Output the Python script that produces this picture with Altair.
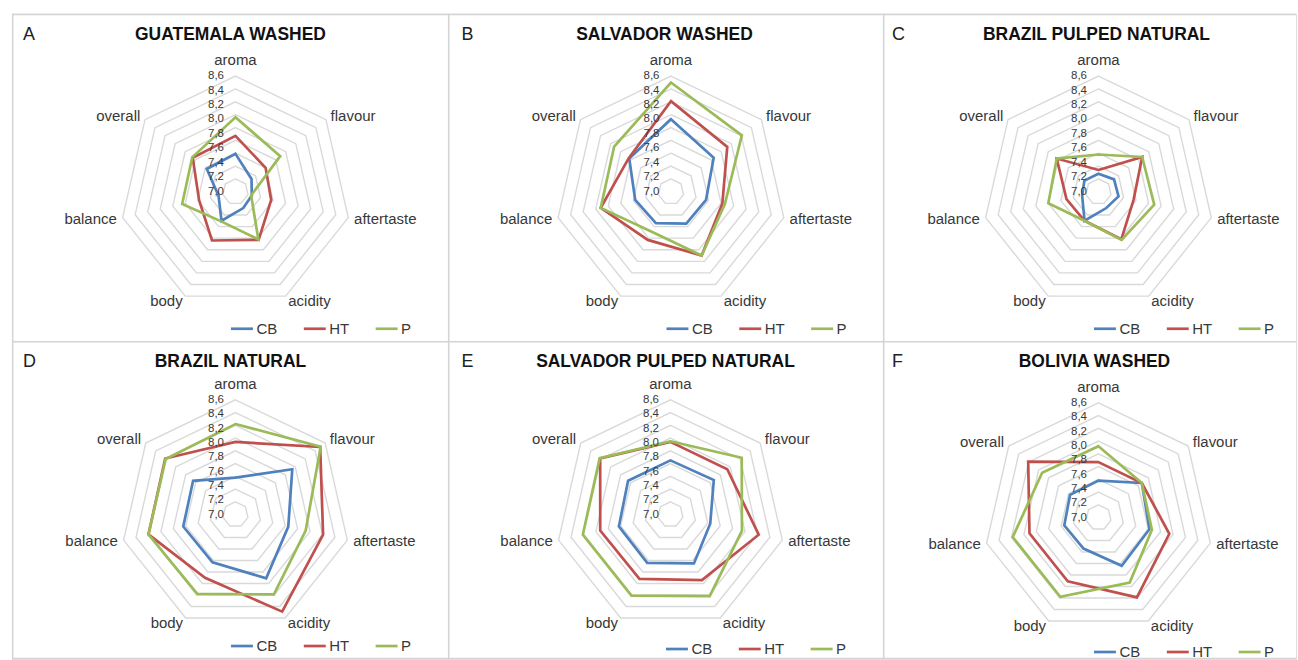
import altair as alt
import pandas as pd

# Cupping attributes, clockwise from the top of each radar
attributes = ["aroma", "flavour", "aftertaste", "acidity", "body", "balance", "overall"]
label_side = ["top", "right", "right", "right", "left", "left", "left"]

series_names = ["CB", "HT", "P"]
series_colors = ["#4F81BD", "#C0504D", "#9BBB59"]

tick_values = [7.0, 7.2, 7.4, 7.6, 7.8, 8.0, 8.2, 8.4, 8.6]
tick_labels = ["7,0", "7,2", "7,4", "7,6", "7,8", "8,0", "8,2", "8,4", "8,6"]
scale_min, scale_max = 6.8, 8.6

panel_letters = ["A", "B", "C", "D", "E", "F"]
panel_titles = ["GUATEMALA WASHED", "SALVADOR  WASHED", "BRAZIL  PULPED  NATURAL",
                "BRAZIL  NATURAL", "SALVADOR  PULPED NATURAL", "BOLIVIA WASHED"]

# Mean scores per attribute (aroma ... overall)
guatemala_cb = [7.39, 7.12, 7.06, 7.08, 7.30, 7.07, 7.37]
guatemala_ht = [7.67, 7.40, 7.37, 7.63, 7.64, 7.38, 7.65]
guatemala_p = [7.96, 7.69, 7.05, 7.62, 7.31, 7.65, 7.66]

salvador_w_cb = [7.93, 7.65, 7.36, 7.35, 7.34, 7.37, 7.63]
salvador_w_ht = [8.21, 7.92, 7.62, 7.90, 7.63, 7.92, 7.64]
salvador_w_p = [8.50, 8.21, 7.66, 7.90, 7.49, 7.92, 7.93]

brazil_pn_cb = [7.08, 7.11, 7.12, 7.08, 7.30, 7.06, 7.08]
brazil_pn_ht = [7.14, 7.67, 7.36, 7.62, 7.30, 7.31, 7.63]
brazil_pn_p = [7.38, 7.67, 7.69, 7.63, 7.30, 7.60, 7.63]

brazil_n_cb = [7.38, 7.94, 7.65, 7.91, 7.63, 7.64, 7.65]
brazil_n_ht = [7.94, 8.50, 8.21, 8.49, 7.90, 8.20, 8.21]
brazil_n_p = [8.22, 8.51, 7.93, 8.19, 8.18, 8.20, 8.20]

salvador_pn_cb = [7.65, 7.67, 7.44, 7.65, 7.64, 7.63, 7.65]
salvador_pn_ht = [7.94, 7.94, 8.22, 7.94, 7.92, 7.93, 8.21]
salvador_pn_p = [7.95, 8.23, 7.95, 8.22, 8.21, 8.21, 8.22]

bolivia_cb = [7.38, 7.67, 7.62, 7.64, 7.34, 7.35, 7.37]
bolivia_ht = [7.67, 7.67, 7.94, 8.19, 7.91, 7.91, 8.21]
bolivia_p = [7.92, 7.67, 7.66, 7.93, 8.18, 8.18, 7.93]

panel_scores = [
    (guatemala_cb, guatemala_ht, guatemala_p),
    (salvador_w_cb, salvador_w_ht, salvador_w_p),
    (brazil_pn_cb, brazil_pn_ht, brazil_pn_p),
    (brazil_n_cb, brazil_n_ht, brazil_n_p),
    (salvador_pn_cb, salvador_pn_ht, salvador_pn_p),
    (bolivia_cb, bolivia_ht, bolivia_p),
]

# Panel geometry: size, radar centre, outer radius, legend row, title/letter x
panel_layout = [
    dict(w=437, h=328, cx=224, cy=178.5, r=116, leg=317, tx=219, lx=11, bottom=False),
    dict(w=436, h=328, cx=223.5, cy=178.5, r=116, leg=317, tx=217, lx=13.5, bottom=False),
    dict(w=414, h=328, cx=216, cy=178.5, r=116, leg=317, tx=214, lx=9, bottom=False),
    dict(w=437, h=319, cx=224, cy=174, r=115, leg=307, tx=219, lx=11, bottom=True),
    dict(w=436, h=319, cx=223, cy=174, r=115, leg=310, tx=218, lx=13.5, bottom=True),
    dict(w=414, h=319, cx=216, cy=177, r=115, leg=313, tx=212, lx=9, bottom=True),
]

FONT = "Liberation Sans"
TEXT_COLOR = "#383838"
GRID_COLOR = "#d9d9d9"
FRAME_COLOR = "#d4d4d4"

polar_expr = dict(
    rn=f"(datum.score - {scale_min}) / ({scale_max} - {scale_min})",
    ang="datum.k * 2 * PI / 7",
    px="datum.rn * sin(datum.ang)",
    py="datum.rn * cos(datum.ang)",
)


def radar_panel(letter, title, scores, geo):
    w, h, cx, cy, r = geo["w"], geo["h"], geo["cx"], geo["cy"], geo["r"]
    xs = alt.Scale(domain=[-cx / r, (w - cx) / r], nice=False, zero=False)
    ys = alt.Scale(domain=[-(h - cy) / r, cy / r], nice=False, zero=False)

    rows = []
    for name, vals in zip(series_names, scores):
        for k, (attr, v) in enumerate(zip(attributes, vals)):
            rows.append({"series": name, "attribute": attr, "k": k, "score": v})
    score_df = pd.DataFrame(rows)
    ring_df = pd.DataFrame([{"ring": t, "k": k, "score": t}
                            for t in tick_values for k in range(len(attributes))])
    tick_df = pd.DataFrame({"t": tick_values, "label": tick_labels})
    cat_df = pd.DataFrame({"attribute": attributes, "k": list(range(len(attributes))),
                           "side": label_side})

    rings = alt.Chart(ring_df).transform_calculate(**polar_expr).mark_line(
        interpolate="linear-closed", stroke=GRID_COLOR, strokeWidth=1.4
    ).encode(
        x=alt.X("px:Q", scale=xs, axis=None),
        y=alt.Y("py:Q", scale=ys, axis=None),
        detail="ring:N",
        order="k:Q",
    )

    lines = alt.Chart(score_df).transform_calculate(**polar_expr).mark_line(
        interpolate="linear-closed", strokeWidth=2.7
    ).encode(
        x=alt.X("px:Q", scale=xs, axis=None),
        y=alt.Y("py:Q", scale=ys, axis=None),
        color=alt.Color(
            "series:N",
            scale=alt.Scale(domain=series_names, range=series_colors),
            legend=alt.Legend(
                title=None, orient="none", direction="horizontal",
                legendX=cx - 6, legendY=geo["leg"] - 14,
                symbolType="stroke", symbolSize=484, symbolStrokeWidth=2.7,
                labelFont=FONT, labelFontSize=15, labelColor=TEXT_COLOR,
                labelOffset=2, columnPadding=21, padding=0,
            ),
        ),
        order="k:Q",
    )

    ticks = alt.Chart(tick_df).transform_calculate(
        lx="0", ly=f"(datum.t - {tick_values[0]}) / ({tick_values[-1]} - {tick_values[0]})"
    ).mark_text(
        align="right", baseline="middle", dx=-11.5, font=FONT, fontSize=11.5, color=TEXT_COLOR
    ).encode(
        x=alt.X("lx:Q", scale=xs, axis=None),
        y=alt.Y("ly:Q", scale=ys, axis=None),
        text="label:N",
    )

    label_r = 1 + 6 / r
    cat_base = alt.Chart(cat_df).transform_calculate(
        ang="datum.k * 2 * PI / 7",
        lx=f"{label_r} * sin(datum.ang)",
        ly=f"{label_r} * cos(datum.ang)",
    )
    cat_enc = dict(
        x=alt.X("lx:Q", scale=xs, axis=None),
        y=alt.Y("ly:Q", scale=ys, axis=None),
        text="attribute:N",
    )
    cat_style = dict(baseline="middle", font=FONT, fontSize=15, color=TEXT_COLOR)
    cats_top = cat_base.transform_filter("datum.side == 'top'").mark_text(
        align="center", dy=-10, **cat_style).encode(**cat_enc)
    cats_right = cat_base.transform_filter("datum.side == 'right'").mark_text(
        align="left", **cat_style).encode(**cat_enc)
    cats_left = cat_base.transform_filter("datum.side == 'left'").mark_text(
        align="right", **cat_style).encode(**cat_enc)

    heading = alt.Chart(alt.Data(values=[{"t": title}])).mark_text(
        align="center", baseline="middle", font=FONT, fontSize=17.5, fontWeight="bold",
        color="#111111"
    ).encode(x=alt.value(geo["tx"]), y=alt.value(21), text="t:N")

    tag = alt.Chart(alt.Data(values=[{"t": letter}])).mark_text(
        align="left", baseline="middle", font=FONT, fontSize=18, color="#222222"
    ).encode(x=alt.value(geo["lx"]), y=alt.value(21), text="t:N")

    one = alt.Data(values=[{}])
    frame = [
        alt.Chart(one).mark_rule(color=FRAME_COLOR, strokeWidth=1.5).encode(
            x=alt.value(0.75), y=alt.value(0), y2=alt.value(h)),
        alt.Chart(one).mark_rule(color=FRAME_COLOR, strokeWidth=1.5).encode(
            x=alt.value(0), x2=alt.value(w), y=alt.value(0.75)),
    ]
    if geo["bottom"]:
        frame.append(alt.Chart(one).mark_rule(color=FRAME_COLOR, strokeWidth=1.5).encode(
            x=alt.value(0), x2=alt.value(w), y=alt.value(h - 0.75)))

    return alt.layer(
        *frame, rings, lines, ticks, cats_top, cats_right, cats_left, heading, tag
    ).properties(width=w, height=h)


panels = [radar_panel(panel_letters[i], panel_titles[i], panel_scores[i], panel_layout[i])
          for i in range(6)]

chart = alt.concat(
    *panels, columns=3, spacing=0, bounds="flush", align="each"
).resolve_scale(
    x="independent", y="independent", color="independent"
).resolve_legend(color="independent").properties(
    padding={"left": 10, "top": 11, "right": 0, "bottom": 0},
    background="white",
).configure_view(stroke=None).configure(font=FONT)

chart.save("out.html", embed_options={"renderer": "svg", "actions": False})
